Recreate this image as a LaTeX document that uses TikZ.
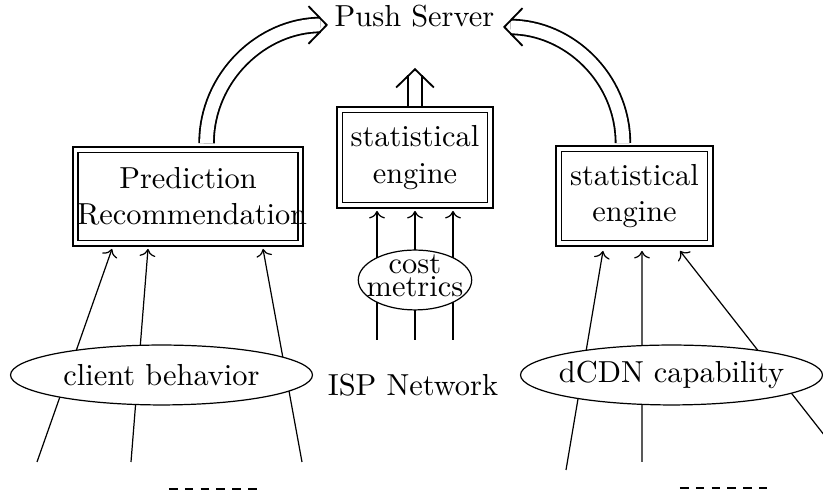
\documentclass[tikz,border=0pt]{standalone}
\usetikzlibrary{arrows.meta,shapes.geometric}
\begin{document}
\begin{tikzpicture}[x=0.3289pt, y=-0.3289pt,
  dbox/.style={draw, double, double distance=1.3pt, semithick, align=center, inner sep=0.5pt},
  blob/.style={draw, ellipse, fill=white, inner sep=-60pt, minimum height=19.7pt},
  % hollow band with a single open chevron at its end
  pusharrow/.style={double, double distance=4.2pt, semithick, shorten >=2.4pt,
    postaction={draw, semithick, shorten >=0pt, dash pattern=on 0pt off 2000pt,
      -{Straight Barb[length=6pt, width=12.4pt]}}},
  feed/.style={->},
  gap/.style={thick, dash pattern=on 2.8pt off 2.4pt}]
\useasboundingbox (0,0) rectangle (823,502);

% server and engines
\node[anchor=base] (push) at (414.5,27) {Push Server};
\node[dbox, text width=73pt, minimum height=30.8pt] (pred) at (188,196.5) {Prediction\\Recommendation};
\node[dbox, minimum width=49.6pt, minimum height=31.5pt] (stc) at (415,157.5) {statistical\\engine};
\node[dbox, minimum width=49.9pt, minimum height=31.2pt] (str) at (634.5,196) {statistical\\engine};

% results pushed to the server
\coordinate (up) at (415,68);
\draw[pusharrow] ([xshift=6.1pt,yshift=1.8pt]pred.north) to[out=90,in=180] ([shift={(4,-2)}]push.base west);
\draw[pusharrow] ([xshift=-3.8pt,yshift=1.5pt]str.north) to[out=90,in=0] ([shift={(-2,0)}]push.base east);
\draw[pusharrow] ([yshift=0.8pt]stc.north) -- (up);

% input feeds
\coordinate (l1) at (37,462);
\coordinate (l2) at (131,462);
\coordinate (l3) at (302,462);
\coordinate (c1) at (377,340);
\coordinate (c2) at (415,340);
\coordinate (c3) at (453,340);
\coordinate (r1) at (566,470);
\coordinate (r2) at (642,462);
\coordinate (r3) at (850,468);
\draw[feed] (l1) -- ([shift={(-76,4.7)}]pred.south);
\draw[feed] (l2) -- ([shift={(-40,4.7)}]pred.south);
\draw[feed] (l3) -- ([shift={(75,4.7)}]pred.south);
\draw[feed] (c1) -- ([shift={(-38,4.6)}]stc.south);
\draw[feed] (c2) -- ([shift={(0,4.6)}]stc.south);
\draw[feed] (c3) -- ([shift={(38,4.6)}]stc.south);
\draw[feed] (r1) -- ([shift={(-31.5,6.6)}]str.south);
\draw[feed] (r2) -- ([shift={(7.5,6.6)}]str.south);
\draw[feed] (r3) -- ([shift={(45.5,6.6)}]str.south);

% data sources
\node[blob, minimum width=99.3pt] (cb) at (161.5,375) {client behavior};
\node[blob, minimum width=99.3pt] (dc) at (671.5,375) {dCDN capability};
\node[blob, minimum width=37.3pt, align=center] (cm) at (415,280) {cost\\[-4.5pt]metrics\rule[-3pt]{0pt}{3pt}};
\node (isp) at (413,385) {ISP Network};

% further feeds not shown
\coordinate (d1) at (169,489);
\coordinate (d2) at (257,489);
\coordinate (d3) at (680,488);
\coordinate (d4) at (767,488);
\draw[gap] (d1) -- (d2);
\draw[gap] (d3) -- (d4);
\end{tikzpicture}
\end{document}
